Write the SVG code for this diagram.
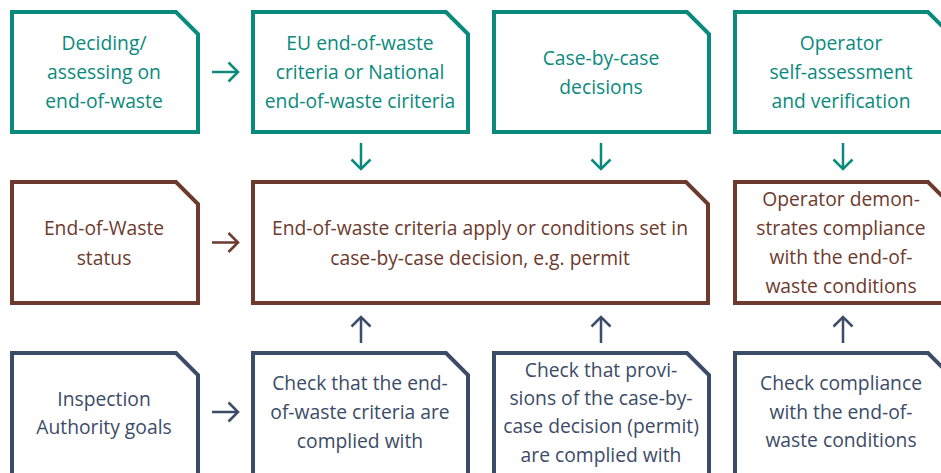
<svg xmlns="http://www.w3.org/2000/svg" width="941" height="473" viewBox="0 0 941 473">
<style>
  .box{fill:#fff;stroke-width:4;stroke-linejoin:miter}
  .t{stroke:#0a8a7d}.b{stroke:#6d3a2d}.n{stroke:#3c4b67}
  text{font-family:"Open Sans","Noto Sans","Liberation Sans",sans-serif;font-size:19.3px;text-anchor:middle}
  .tt{fill:#0a8a7d}.bt{fill:#6d3a2d}.nt{fill:#3c4b67}
  .c{fill:none;stroke-width:2.5}
</style>
<defs>
  <marker id="ht" markerUnits="userSpaceOnUse" markerWidth="14" markerHeight="24" viewBox="0 0 14 24" refX="11" refY="12" orient="auto"><path d="M1.5,2.5 L11,12 L1.5,21.5" fill="none" stroke="#0a8a7d" stroke-width="2.5"/></marker>
  <marker id="hb" markerUnits="userSpaceOnUse" markerWidth="14" markerHeight="24" viewBox="0 0 14 24" refX="11" refY="12" orient="auto"><path d="M1.5,2.5 L11,12 L1.5,21.5" fill="none" stroke="#6d3a2d" stroke-width="2.5"/></marker>
  <marker id="hn" markerUnits="userSpaceOnUse" markerWidth="14" markerHeight="24" viewBox="0 0 14 24" refX="11" refY="12" orient="auto"><path d="M1.5,2.5 L11,12 L1.5,21.5" fill="none" stroke="#3c4b67" stroke-width="2.5"/></marker>
</defs>
<rect width="941" height="473" fill="#fff"/>

<g id="n1">
  <path class="box t" d="M12,12 H176 L198,34 V132 H12 Z"/>
  <text class="tt"><tspan x="104" y="50">Deciding/</tspan><tspan x="104" y="79">assessing on</tspan><tspan x="104" y="108">end-of-waste</tspan></text>
</g>
<g id="n2">
  <path class="box t" d="M253,12 H446 L468,34 V132 H253 Z"/>
  <text class="tt"><tspan x="360" y="50">EU end-of-waste</tspan><tspan x="360" y="79">criteria or National</tspan><tspan x="360" y="108">end-of-waste ciriteria</tspan></text>
</g>
<g id="n3">
  <path class="box t" d="M494,12 H687 L709,34 V132 H494 Z"/>
  <text class="tt"><tspan x="601" y="65">Case-by-case</tspan><tspan x="601" y="94">decisions</tspan></text>
</g>
<g id="n4">
  <path class="box t" d="M735,12 H928 L950,34 V132 H735 Z"/>
  <text class="tt"><tspan x="841" y="50">Operator</tspan><tspan x="841" y="79">self-assessment</tspan><tspan x="841" y="108">and verification</tspan></text>
</g>

<g id="n5">
  <path class="box b" d="M12,182 H176 L198,204 V303 H12 Z"/>
  <text class="bt"><tspan x="104" y="235">End-of-Waste</tspan><tspan x="104" y="265">status</tspan></text>
</g>
<g id="n6">
  <path class="box b" d="M253,182 H686 L708,204 V303 H253 Z"/>
  <text class="bt"><tspan x="480" y="235">End-of-waste criteria apply or conditions set in</tspan><tspan x="480" y="265">case-by-case decision, e.g. permit</tspan></text>
</g>
<g id="n7">
  <path class="box b" d="M735,182 H928 L950,204 V303 H735 Z"/>
  <text class="bt"><tspan x="841" y="206">Operator demon-</tspan><tspan x="841" y="235">strates compliance</tspan><tspan x="841" y="264">with the end-of-</tspan><tspan x="841" y="293">waste conditions</tspan></text>
</g>

<g id="n8">
  <path class="box n" d="M12,353 H176 L198,375 V490 H12 Z"/>
  <text class="nt"><tspan x="104" y="406">Inspection</tspan><tspan x="104" y="434">Authority goals</tspan></text>
</g>
<g id="n9">
  <path class="box n" d="M253,353 H446 L468,375 V490 H253 Z"/>
  <text class="nt"><tspan x="360" y="390">Check that the end-</tspan><tspan x="360" y="419">of-waste criteria are</tspan><tspan x="360" y="448">complied with</tspan></text>
</g>
<g id="n10">
  <path class="box n" d="M494,353 H687 L709,375 V490 H494 Z"/>
  <text class="nt"><tspan x="601" y="377">Check that provi-</tspan><tspan x="601" y="405">sions of the case-by-</tspan><tspan x="601" y="433">case decision (permit)</tspan><tspan x="601" y="462">are complied with</tspan></text>
</g>
<g id="n11">
  <path class="box n" d="M735,353 H928 L950,375 V490 H735 Z"/>
  <text class="nt"><tspan x="841" y="390">Check compliance</tspan><tspan x="841" y="419">with the end-of-</tspan><tspan x="841" y="447">waste conditions</tspan></text>
</g>

<g id="connectors">
  <path class="c t" d="M212,72 H238" marker-end="url(#ht)"/>
  <path class="c b" d="M212,242.5 H238" marker-end="url(#hb)"/>
  <path class="c n" d="M212,412 H238" marker-end="url(#hn)"/>
  <path class="c t" d="M361,143 V169" marker-end="url(#ht)"/>
  <path class="c t" d="M601,143 V169" marker-end="url(#ht)"/>
  <path class="c t" d="M843,143 V169" marker-end="url(#ht)"/>
  <path class="c n" d="M361,343 V317" marker-end="url(#hn)"/>
  <path class="c n" d="M601,343 V317" marker-end="url(#hn)"/>
  <path class="c n" d="M843,343 V317" marker-end="url(#hn)"/>
</g>
</svg>
